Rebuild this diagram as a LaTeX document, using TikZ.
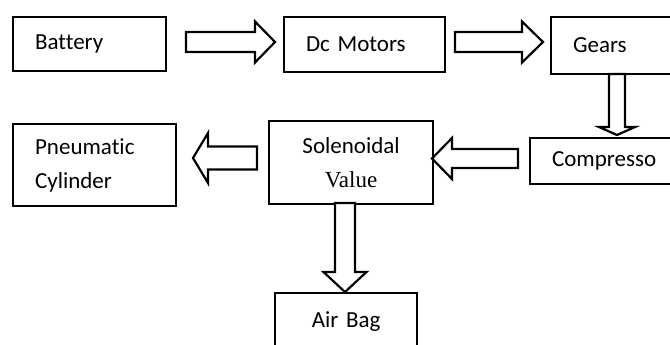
\documentclass[tikz,border=0pt]{standalone}
\usepackage{fontspec}
\setmainfont[Ligatures=NoCommon]{Carlito}
\newfontfamily\timesf{Liberation Serif}
\newcommand{\barrow}[7]{%
  \draw[blockarrow,shift={(#1,#2)},rotate=#3] (0,-#5) -- ({#4-#7},-#5) -- ({#4-#7},-#6) -- (#4,0) -- ({#4-#7},#6) -- ({#4-#7},#5) -- (0,#5) -- cycle;}
\begin{document}
\begin{tikzpicture}[x=1pt,y=-1pt,
  box/.style={draw, line width=2.2pt, anchor=north west, inner xsep=22pt, inner ysep=0pt,
    align=left, font=\fontsize{23}{34}\selectfont},
  cbox/.style={box, align=center},
  blockarrow/.style={draw, fill=white, line width=2.2pt, line join=miter}]
\useasboundingbox (0,0) rectangle (670,345);
\clip (0,0) rectangle (670,345);
\node[box, minimum width=153pt, minimum height=54pt, text width=109pt] (bat) at (12,16) {Battery};
\node[box, minimum width=161pt, minimum height=55pt, text width=117pt] (dcm) at (283,16) {Dc Motors};
\node[box, minimum width=150pt, minimum height=57pt, text width=106pt] (gea) at (550,16) {Gears};
\node[box, minimum width=163pt, minimum height=82pt, text width=119pt] (pne) at (12,123) {Pneumatic\\Cylinder};
\node[cbox, minimum width=164pt, minimum height=83pt, text width=120pt, inner xsep=22pt] (sol) at (268,120) {Solenoidal\\{\timesf Value}};
\node[box, minimum width=161pt, minimum height=46pt, text width=117pt] (com) at (529,137) {Compresso};
\node[cbox, minimum width=142pt, minimum height=56pt, text width=98pt] (air) at (274,292) {Air Bag};
% block arrows
\barrow{186}{42}{0}{89}{10}{20.5}{20}
\barrow{455}{42}{0}{88}{10}{20.5}{21}
\barrow{617}{74}{-90}{61}{8}{18}{8}
\barrow{518}{158.5}{180}{86}{9.5}{20.5}{20}
\barrow{257}{158}{180}{64}{11.5}{25}{15}
\barrow{345}{203}{-90}{89}{10}{21.5}{20}
\end{tikzpicture}
\end{document}
